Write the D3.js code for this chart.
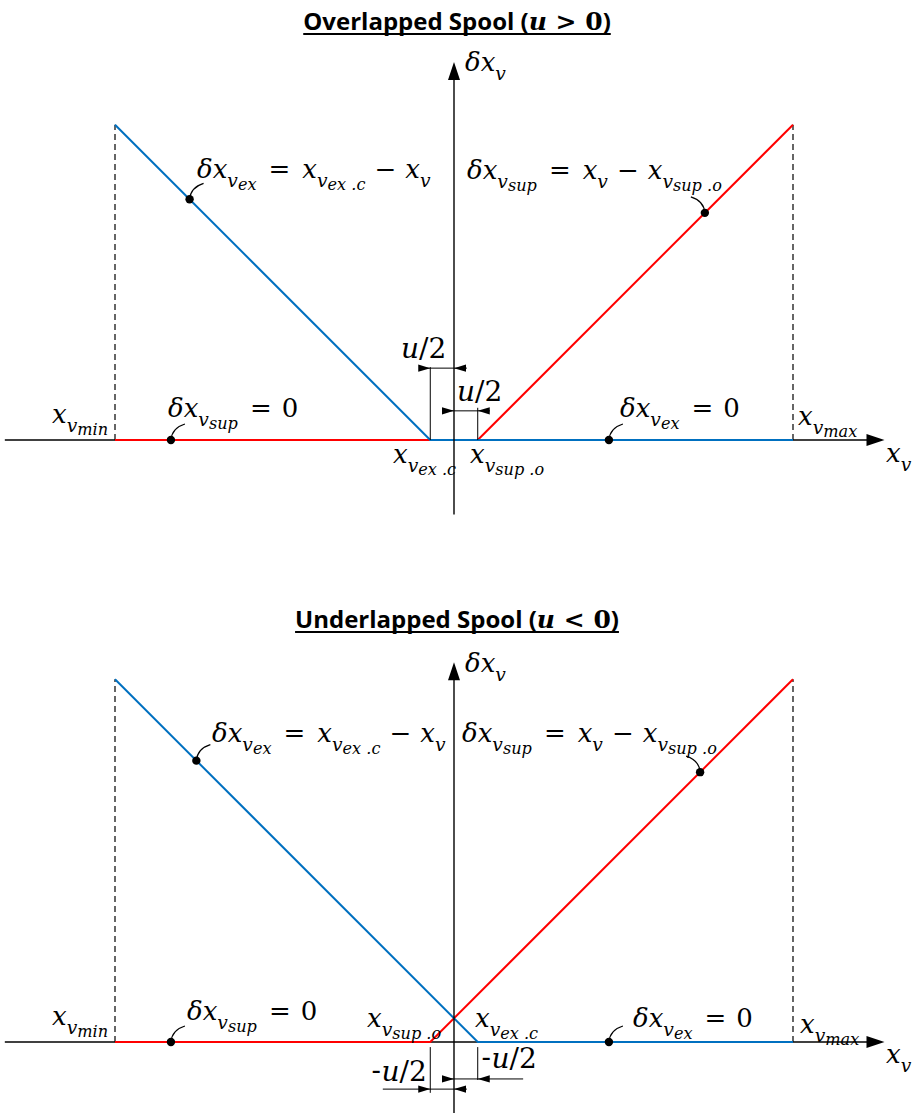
<!DOCTYPE html>
<html>
<head>
<meta charset="utf-8">
<script src="https://cdn.jsdelivr.net/npm/d3@7"></script>
<style>
  html, body { margin: 0; padding: 0; background: #fff; }
  svg text { white-space: pre; }
</style>
</head>
<body>
<svg id="chart" width="914" height="1113"></svg>
<script>
// ---- valve opening data (spool position x_v, normalised units) ----
const xvRange = [-10, 10];               // x_v,min .. x_v,max
const panelTitles = ["Overlapped Spool (", "Underlapped Spool ("];
const panelSigns = [">", "<"];
const halfLap = [0.7, -0.7];             // u/2 for each spool

// exhaust opening δx_v,ex (blue) and supply opening δx_v,sup (red)
const exX_over  = [-10, -0.7, 10];
const exD_over  = [9.3, 0, 0];
const supX_over = [-10, 0.7, 10];
const supD_over = [0, 0, 9.3];

const exX_under  = [-10, 0.7, 10];
const exD_under  = [10.7, 0, 0];
const supX_under = [-10, -0.7, 10];
const supD_under = [0, 0, 10.7];

// labelled points on each branch
const markX_over = [-7.8, 7.4, -8.35, 4.57];
const markD_over = [7.1, 6.7, 0, 0];
const markX_under = [-7.6, 7.26, -8.35, 4.57];
const markD_under = [8.3, 7.96, 0, 0];

const BLUE = "#0070C0", RED = "#FF0000";
const MATH = "'DejaVu Serif', serif";
const svg = d3.select("#chart");

const x = d3.scaleLinear().domain(xvRange).range([115, 793]);
const k = (793 - 115) / 20;
const y = d3.scaleLinear().domain([0, 10]).range([0, -10 * k]);

// math-like text: parts of [text, level, upright, gapBefore]
function math(g, px, py, parts, S) {
  const sizes = [S, S * 0.72, S * 0.62];
  const shifts = [0, S * 0.33, S * 0.46];
  const t = g.append("text").attr("x", px).attr("y", py)
    .attr("font-family", MATH).attr("fill", "#000");
  let cur = 0;
  parts.forEach(([s, lvl, up, gap]) => {
    t.append("tspan")
      .attr("dy", shifts[lvl] - cur)
      .attr("dx", gap || 0)
      .attr("font-size", sizes[lvl])
      .attr("font-style", up ? "normal" : "italic")
      .text(s);
    cur = shifts[lvl];
  });
  return t;
}

function arrowHead(g, tipX, tipY, dir, L = 12, H = 3.6) {
  g.append("path")
    .attr("d", `M${tipX},${tipY}L${tipX - dir * L},${tipY - H}L${tipX - dir * L},${tipY + H}Z`)
    .attr("fill", "#000");
}

function drawPanel(idx, baseY, exX, exD, supX, supD, mX, mD, yTop, yBot, cfg) {
  const g = svg.append("g").attr("transform", `translate(0,${baseY})`);

  // title
  const title = svg.append("text").attr("x", 457).attr("y", cfg.titleY)
    .attr("text-anchor", "middle").attr("font-weight", "bold")
    .attr("font-family", "'Open Sans', Lato, sans-serif").attr("font-size", 24);
  title.append("tspan").text(panelTitles[idx]);
  title.append("tspan").attr("font-family", MATH).attr("font-style", "italic").attr("font-size", 25).text("u");
  title.append("tspan").attr("font-family", MATH).attr("font-size", 25).text(" " + panelSigns[idx] + " 0");
  title.append("tspan").text(")");
  const bb = title.node().getBBox();
  svg.append("line").attr("x1", bb.x).attr("x2", bb.x + bb.width)
    .attr("y1", cfg.titleY + 4).attr("y2", cfg.titleY + 4)
    .attr("stroke", "#000").attr("stroke-width", 1.8);

  // x axis
  g.append("line").attr("x1", x(-13.25)).attr("x2", x(12.2))
    .attr("y1", y(0)).attr("y2", y(0)).attr("stroke", "#000").attr("stroke-width", 1.4);
  arrowHead(g, x(12.7), y(0), 1, 18, 6);

  // stroke limits
  [xvRange[0], xvRange[1]].forEach(v => {
    g.append("line").attr("x1", x(v)).attr("x2", x(v))
      .attr("y1", y(0)).attr("y2", y(exD[0]))
      .attr("stroke", "#000").attr("stroke-width", 1.2).attr("stroke-dasharray", "6,4");
  });

  const line = d3.line().x(d => x(d[0])).y(d => y(d[1]));
  g.append("path").datum(supX.map((v, i) => [v, supD[i]])).attr("d", line)
    .attr("fill", "none").attr("stroke", RED).attr("stroke-width", 2);
  g.append("path").datum(exX.map((v, i) => [v, exD[i]])).attr("d", line)
    .attr("fill", "none").attr("stroke", BLUE).attr("stroke-width", 2);

  // y axis
  g.append("line").attr("x1", x(0)).attr("x2", x(0))
    .attr("y1", y(yBot)).attr("y2", y(yTop) + 16).attr("stroke", "#000").attr("stroke-width", 1.4);
  g.append("path")
    .attr("d", `M${x(0)},${y(yTop)}L${x(0) - 6},${y(yTop) + 18}L${x(0) + 6},${y(yTop) + 18}Z`)
    .attr("fill", "#000");

  // lap dimensions
  const an = cfg.dims;
  an.ticks.forEach(([xv, d0, d1]) => {
    g.append("line").attr("x1", x(xv)).attr("x2", x(xv)).attr("y1", y(d0)).attr("y2", y(d1))
      .attr("stroke", "#000").attr("stroke-width", 1);
  });
  an.rows.forEach(([d, xa, xb, tipR, tipL]) => {
    g.append("line").attr("x1", x(xa)).attr("x2", x(xb)).attr("y1", y(d)).attr("y2", y(d))
      .attr("stroke", "#000").attr("stroke-width", 1);
    arrowHead(g, x(tipR), y(d), 1);
    arrowHead(g, x(tipL), y(d), -1);
  });

  // markers with leaders
  mX.forEach((v, i) => {
    const cx = x(v), cy = y(mD[i]);
    const s = cfg.leaderDir[i];
    g.append("path")
      .attr("d", `M${cx},${cy}Q${cx + s * 1},${cy - 12} ${cx + s * 14},${cy - 16}`)
      .attr("fill", "none").attr("stroke", "#000").attr("stroke-width", 1.2);
    g.append("circle").attr("cx", cx).attr("cy", cy).attr("r", 4.2).attr("fill", "#000");
  });

  return g;
}

const S = 26;

// ---------- overlapped spool ----------
drawPanel(0, 440, exX_over, exD_over, supX_over, supD_over, markX_over, markD_over, 11.15, -2.2, {
  titleY: 30,
  leaderDir: [1, -1, 1, 1],
  dims: {
    ticks: [[-0.7, 2.15, 0], [0.7, 0.95, 0]],
    rows: [[2.12, -1.0, 0.38, -0.7, 0], [0.86, -0.32, 1.06, 0, 0.7]]
  }
});

// ---------- underlapped spool ----------
drawPanel(1, 1042, exX_under, exD_under, supX_under, supD_under, markX_under, markD_under, 11.2, -2.2, {
  titleY: 628,
  leaderDir: [1, -1, 1, 1],
  dims: {
    ticks: [[-0.7, -0.15, -1.5], [0.7, -0.15, -1.12]],
    rows: [[-1.09, -0.32, 2.04, 0, 0.7], [-1.39, -2.1, 0.38, -0.7, 0]]
  }
});

// ---------- labels ----------
const L = svg.append("g");
function labels(dy, pos) {
  math(L, 465, 71 + dy, [["δx", 0], ["v", 1]], S);
  math(L, pos.exF[0], pos.exF[1], [["δx", 0], ["v", 1], ["ex", 2], ["=", 0, true, 12], ["x", 0, false, 12], ["v", 1], ["ex .c", 2], ["−", 0, true, 9], ["x", 0, false, 9], ["v", 1]], S);
  math(L, pos.supF[0], pos.supF[1], [["δx", 0], ["v", 1], ["sup", 2], ["=", 0, true, 12], ["x", 0, false, 12], ["v", 1], ["−", 0, true, 9], ["x", 0, false, 9], ["v", 1], ["sup .o", 2]], S);
  math(L, 52, pos.minY, [["x", 0], ["v", 1], ["min", 2]], S);
  math(L, pos.sup0[0], pos.sup0[1], [["δx", 0], ["v", 1], ["sup", 2], ["=", 0, true, 12], ["0", 0, true, 10]], S);
  math(L, pos.ex0[0], pos.ex0[1], [["δx", 0], ["v", 1], ["ex", 2], ["=", 0, true, 12], ["0", 0, true, 10]], S);
  math(L, pos.maxX, pos.maxY, [["x", 0], ["v", 1], ["max", 2]], S);
  math(L, 886, pos.xvY, [["x", 0], ["v", 1]], S);
  math(L, pos.exc[0], pos.exc[1], [["x", 0], ["v", 1], ["ex .c", 2]], S);
  math(L, pos.supo[0], pos.supo[1], [["x", 0], ["v", 1], ["sup .o", 2]], S);
  pos.lap.forEach(([lx, ly, pre]) => {
    const t = math(L, lx, ly, pre ? [["-", 0, true], ["u", 0], ["/2", 0, true]] : [["u", 0], ["/2", 0, true]], 28);
    if (pre) t.select("tspan").attr("font-family", "Lato, sans-serif");
  });
}

labels(0, {
  exF: [197, 178], supF: [467, 179], minY: 423,
  sup0: [168, 417], ex0: [620, 417], maxX: 798, maxY: 425, xvY: 462,
  exc: [393, 463], supo: [470, 463],
  lap: [[401, 358, false], [457, 401, false]]
});
labels(601, {
  exF: [212, 742], supF: [462, 742], minY: 1025,
  sup0: [187, 1020], ex0: [633, 1027], maxX: 800, maxY: 1033, xvY: 1063,
  exc: [475, 1027], supo: [367, 1027],
  lap: [[371, 1081, true], [481, 1068, true]]
});
</script>
</body>
</html>
